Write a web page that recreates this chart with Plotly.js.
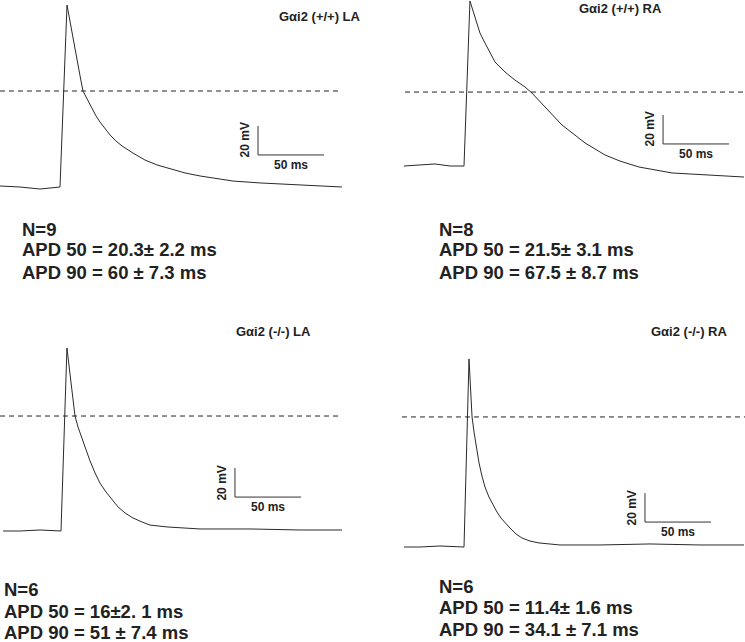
<!DOCTYPE html>
<html>
<head>
<meta charset="utf-8">
<script src="https://cdn.plot.ly/plotly-3.0.1.min.js"></script>
<style>html,body{margin:0;padding:0;background:#fff;}#chart{width:745px;height:642px;}</style>
</head>
<body>
<div id="chart"></div>
<script>
// ---- Data (time in ms from upstroke, membrane potential in mV) ----
const panelTitles = ["G\u03b1i2 (+/+) LA", "G\u03b1i2 (+/+) RA", "G\u03b1i2 (-/-) LA", "G\u03b1i2 (-/-) RA"];

const laWT_t = [-45.5, -30.3, -15.2, -3.8, 0, 5.3, 7.6, 9.8, 12.9, 15.2, 17.4, 21.2, 24.2, 27.3, 30.3, 34.1, 37.9, 42.4, 47.0, 55.3, 64.4, 73.5, 81.1, 94.7, 106.1, 131.1, 151.5, 168.9, 189.4, 213.6];
const laWT_v = [-74.3, -75, -76.4, -75.7, -75, 50.5, 38.8, 26.4, 11.2, 1.6, -8.8, -15.7, -21.2, -26.0, -30.2, -35.0, -39.1, -43.3, -46.7, -51.6, -56.4, -59.8, -61.9, -65.3, -67.4, -70.9, -72.2, -72.9, -73.6, -75];

const raWT_t = [-45.5, -33.3, -22.0, -10.6, 0, 4.5, 8.3, 12.1, 15.9, 23.5, 31.1, 38.6, 46.2, 51.5, 61.4, 74.2, 91.7, 106.8, 118.2, 132.6, 157.6, 182.6, 212.1];
const raWT_v = [-75, -74.3, -73.6, -75, -75, 38.8, 27.8, 16.7, 9.8, -3.3, -10.2, -15.7, -20.5, -24.7, -34.3, -46.7, -59.1, -67.4, -71.6, -75.7, -79.8, -81.2, -82.6];

const laKO_t = [-43.9, -31.1, -15.9, 0, 4.5, 6.1, 7.6, 9.1, 10.6, 12.9, 15.2, 18.2, 22.0, 25.8, 29.5, 34.1, 38.6, 43.2, 48.5, 54.5, 61.4, 67.4, 80.3, 105.3, 143.2, 181.1, 212.9];
const laKO_v = [-75, -75, -74.3, -75, 51.2, 39.5, 25.7, 14.0, 4.3, -3.3, -9.5, -17.8, -26.7, -35.0, -41.9, -48.1, -53.6, -58.4, -62.6, -66.0, -68.8, -70.9, -72.2, -73.6, -73.6, -74.3, -74.3];

const raKO_t = [-45.5, -33.3, -18.2, 0, 3.8, 4.5, 5.3, 6.1, 7.6, 9.1, 11.4, 13.6, 15.9, 18.9, 22.0, 25.0, 28.0, 31.1, 34.8, 39.4, 43.9, 50.0, 56.8, 72.7, 103.0, 140.9, 178.8, 212.1];
const raKO_v = [-75, -75, -74.3, -75, 54.7, 40.2, 26.4, 14.7, 4.3, -5.3, -17.1, -26.0, -33.6, -40.5, -46.0, -50.9, -55.0, -58.4, -61.9, -66.0, -68.8, -70.9, -72.2, -73.6, -73.6, -72.9, -73.6, -73.6];

// 50% repolarisation level (dashed line), mV
const apd50Level = [-8.8, -24.0, 4.3, 14.7];

// Scale bars
const scaleMs = 50;
const scaleMv = 20;

// Statistics text
const nLabels = ["N=9", "N=8", "N=6", "N=6"];
const apd50Labels = ["APD 50 = 20.3\u00b1 2.2 ms", "APD 50 = 21.5\u00b1 3.1 ms", "APD 50 = 16\u00b12. 1 ms", "APD 50 = 11.4\u00b1 1.6 ms"];
const apd90Labels = ["APD 90 = 60 \u00b1 7.3 ms", "APD 90 = 67.5 \u00b1 8.7 ms", "APD 90 = 51 \u00b1 7.4 ms", "APD 90 = 34.1 \u00b1 7.1 ms"];

// ---- Layout configuration (pixels) ----
const W = 745, H = 642;
const pxPerMs = 1.32, pxPerMv = 1.45, vRest = -75;
const panels = [
  {L: 0,   R: 372, T: 0,   B: 200, px0: 60,  py0: 187, t: laWT_t, v: laWT_v, dash: [-45.5, 213.6], bar: [150, -52.9],
   title: {x: 363, y: 16, anchor: 'right'}, text: {x: 20, y: [228, 249, 271]}},
  {L: 372, R: 745, T: 0,   B: 200, px0: 464, py0: 166, t: raWT_t, v: raWT_v, dash: [-44.7, 212.9], bar: [150.8, -59.8],
   title: {x: 620, y: 8, anchor: 'center'}, text: {x: 437, y: [228, 249, 271]}},
  {L: 0,   R: 372, T: 330, B: 560, px0: 61,  py0: 531, t: laKO_t, v: laKO_v, dash: [-46.2, 212.9], bar: [131.8, -51.6],
   title: {x: 313, y: 332, anchor: 'right'}, text: {x: 2, y: [588, 610, 631]}},
  {L: 372, R: 745, T: 330, B: 560, px0: 464, py0: 547, t: raKO_t, v: raKO_v, dash: [-47.0, 212.9], bar: [137.1, -57.8],
   title: {x: 729, y: 332, anchor: 'right'}, text: {x: 437, y: [585, 606, 628]}}
];

const FONT = '"Liberation Sans", Arial, Helvetica, sans-serif';
const INK = '#222';
const data = [];
const shapes = [];
const annotations = [];
const layout = {
  width: W, height: H, margin: {l: 0, r: 0, t: 0, b: 0},
  paper_bgcolor: '#fff', plot_bgcolor: 'rgba(0,0,0,0)', showlegend: false,
  font: {family: FONT, color: INK}
};

panels.forEach((p, i) => {
  const n = i === 0 ? '' : String(i + 1);
  const xa = 'xaxis' + n, ya = 'yaxis' + n;
  const xr = 'x' + n, yr = 'y' + n;
  layout[xa] = {domain: [p.L / W, p.R / W], range: [(p.L - p.px0) / pxPerMs, (p.R - p.px0) / pxPerMs],
    visible: false, fixedrange: true, anchor: yr};
  layout[ya] = {domain: [1 - p.B / H, 1 - p.T / H], range: [vRest + (p.py0 - p.B) / pxPerMv, vRest + (p.py0 - p.T) / pxPerMv],
    visible: false, fixedrange: true, anchor: xr};

  // AP trace
  data.push({type: 'scatter', mode: 'lines', x: p.t, y: p.v, xaxis: xr, yaxis: yr,
    line: {color: '#2a2a2a', width: 1}, cliponaxis: false, hoverinfo: 'skip'});

  // Scale bar
  const bx = p.bar[0], by = p.bar[1];
  data.push({type: 'scatter', mode: 'lines', x: [bx, bx, bx + scaleMs], y: [by + scaleMv, by, by], xaxis: xr, yaxis: yr,
    line: {color: '#333', width: 1}, cliponaxis: false, hoverinfo: 'skip'});

  // Dashed 50% line
  shapes.push({type: 'line', xref: xr, yref: yr, x0: p.dash[0], x1: p.dash[1], y0: apd50Level[i], y1: apd50Level[i],
    line: {color: INK, width: 1, dash: '5px,4px'}});

  // Scale bar labels
  annotations.push({xref: xr, yref: yr, x: bx, y: by + scaleMv / 2, xshift: -13, text: '<b>' + scaleMv + ' mV</b>',
    textangle: -90, showarrow: false, font: {size: 12, color: INK}, xanchor: 'center', yanchor: 'middle'});
  annotations.push({xref: xr, yref: yr, x: bx + scaleMs / 2, y: by, yshift: -10, text: '<b>' + scaleMs + ' ms</b>',
    showarrow: false, font: {size: 12, color: INK}, xanchor: 'center', yanchor: 'middle'});

  // Panel title
  annotations.push({xref: 'paper', yref: 'paper', x: p.title.x / W, y: 1 - p.title.y / H, text: '<b>' + panelTitles[i] + '</b>',
    showarrow: false, font: {size: 13, color: INK}, xanchor: p.title.anchor, yanchor: 'middle'});

  // Statistics
  [nLabels[i], apd50Labels[i], apd90Labels[i]].forEach((s, k) => {
    annotations.push({xref: 'paper', yref: 'paper', x: p.text.x / W, y: 1 - (p.text.y[k] + 1) / H, text: '<b>' + s + '</b>',
      showarrow: false, font: {size: 18.5, color: INK}, xanchor: 'left', yanchor: 'middle', align: 'left'});
  });
});

layout.shapes = shapes;
layout.annotations = annotations;

Plotly.newPlot('chart', data, layout, {displayModeBar: false, staticPlot: true});
</script>
</body>
</html>
